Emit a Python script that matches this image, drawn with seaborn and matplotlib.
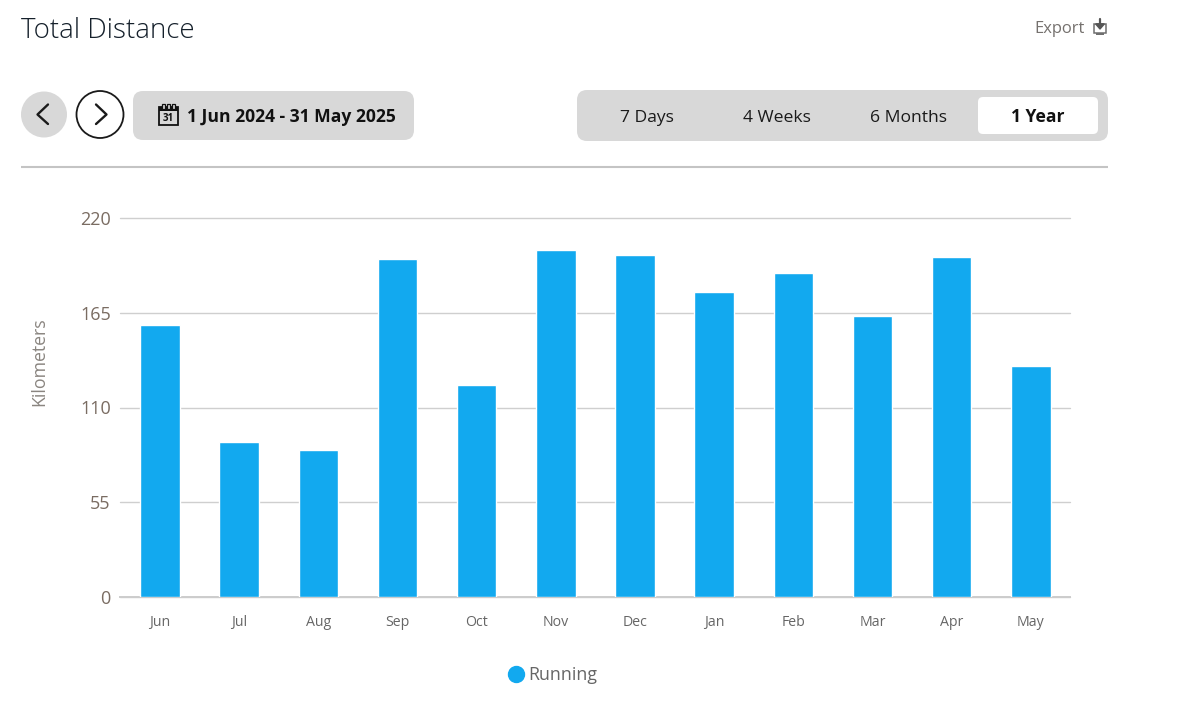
import matplotlib
matplotlib.use('Agg')
import matplotlib.pyplot as plt
from matplotlib.lines import Line2D
from matplotlib.patches import Circle, FancyBboxPatch, Rectangle
import pandas as pd
import seaborn as sns

months = ['Jun', 'Jul', 'Aug', 'Sep', 'Oct', 'Nov', 'Dec', 'Jan', 'Feb', 'Mar', 'Apr', 'May']
running_km = [157.9, 90.0, 85.1, 196.2, 123.1, 201.2, 198.5, 176.8, 187.9, 163.4, 197.1, 134.1]
y_ticks = [0, 55, 110, 165, 220]
range_labels = ['7 Days', '4 Weeks', '6 Months']
range_label_x = [647, 777, 908]

W, H = 1188, 705
BLUE = '#12a9ef'
PANEL = '#d8d8d8'

sns.set_theme(style='white')
plt.rcParams['font.family'] = ['Open Sans', 'DejaVu Sans']

fig = plt.figure(figsize=(W / 100, H / 100), dpi=100, facecolor='white')

# chart area, pixel box from the reference
ax = fig.add_axes([120.4 / W, 1 - 597 / H, 950 / W, 379 / H])
df = pd.DataFrame({'month': months, 'km': running_km})
sns.barplot(data=df, x='month', y='km', color=BLUE, saturation=1, width=0.5, ax=ax, zorder=3)
ax.set_xlim(-0.5, 11.5)
ax.set_ylim(0, 220)
ax.set_yticks(y_ticks)
ax.grid(axis='y', color='#cfcfcf', linewidth=1.0, zorder=0, clip_on=False)
ax.set_axisbelow(True)
sns.despine(ax=ax, left=True)
ax.spines['bottom'].set_color('#cccccc')
ax.spines['bottom'].set_linewidth(1.4)
ax.tick_params(axis='x', length=6, width=1, color='#cccccc', labelsize=10.2, labelcolor='#666666', pad=7)
ax.tick_params(axis='y', length=0, labelsize=13, labelcolor='#7a6c62', pad=7)
ax.set_xlabel('')
ax.set_ylabel('Kilometers', fontsize=12.8, color='#8a8580')
ax.yaxis.set_label_coords((49 - 121) / 950, 0.622)

ax.legend(handles=[Line2D([], [], marker='o', linestyle='none', color=BLUE, markersize=11.5, label='Running')],
          loc='center', bbox_to_anchor=(548 / W, 1 - 675 / H), bbox_transform=fig.transFigure,
          frameon=False, fontsize=12.8, labelcolor='#666666', handletextpad=-0.3, borderpad=0)

# page furniture around the chart, drawn in pixel coordinates
ui = fig.add_axes([0, 0, 1, 1], zorder=-1)
ui.set_xlim(0, W)
ui.set_ylim(H, 0)
ui.axis('off')


def rounded(x0, y0, x1, y1, r, color):
    ui.add_patch(FancyBboxPatch((x0 + r, y0 + r), x1 - x0 - 2 * r, y1 - y0 - 2 * r,
                                boxstyle=f'round,pad={r},rounding_size={r}', fc=color, ec='none'))


ui.text(21, 38.5, 'Total Distance', fontsize=19.9, fontweight='light', color='#15202b', va='baseline', ha='left')
ui.text(1085, 33, 'Export', fontsize=11.9, color='#75716e', va='baseline', ha='right')

# export icon
ui.add_patch(Rectangle((1094, 24), 12, 9, fc='none', ec='#6f6f6f', lw=1.1))
ui.add_patch(Rectangle((1096, 33), 8, 2, fc='#6f6f6f', ec='none'))
ui.add_patch(Rectangle((1096, 23), 8, 5, fc='white', ec='none'))
ui.annotate('', xy=(1100, 30), xytext=(1100, 19),
            arrowprops=dict(arrowstyle='-|>,head_width=0.22,head_length=0.25', color='#555555', lw=1.6, shrinkA=0, shrinkB=0))

# previous / next buttons
ui.add_patch(Circle((44, 114.5), 23, fc=PANEL, ec='none'))
ui.add_patch(Circle((100, 114.5), 23.5, fc='white', ec='#1a1a1a', lw=1.3))
ui.plot([48, 37.5, 48], [104.5, 114.5, 124], color='#1a1a1a', lw=1.7, solid_joinstyle='round')
ui.plot([96, 106.5, 96], [104.5, 114.5, 124], color='#1a1a1a', lw=1.7, solid_joinstyle='round')

# date range button
rounded(133, 91, 414, 140, 10, PANEL)
ui.add_patch(Rectangle((159, 107), 18.5, 18, fc='none', ec='#111111', lw=1.3))
ui.add_patch(Rectangle((159, 107), 18.5, 4, fc='#111111', ec='none'))
for cx in [163, 168, 173]:
    ui.add_patch(Rectangle((cx - 1, 103.5), 2.5, 5, fc=PANEL, ec='#111111', lw=0.9))
ui.text(168.2, 118.5, '31', fontsize=7, fontweight='bold', color='#111111', ha='center', va='center')
ui.text(187, 122, '1 Jun 2024 - 31 May 2025', fontsize=12.6, fontweight='bold', color='#111111', va='baseline', ha='left')

# range selector
rounded(577, 90, 1108, 141, 10, PANEL)
rounded(978, 97, 1098, 134, 5, 'white')
for label, lx in zip(range_labels, range_label_x):
    ui.text(lx, 122, label, fontsize=12.6, color='#1a1a1a', ha='center', va='baseline')
ui.text(1038, 122, '1 Year', fontsize=12.6, fontweight='bold', color='#111111', ha='center', va='baseline')

ui.plot([21, 1108], [167, 167], color='#c4c4c4', lw=1.5, solid_capstyle='butt')

fig.savefig('out.png', dpi=100, facecolor='white')
